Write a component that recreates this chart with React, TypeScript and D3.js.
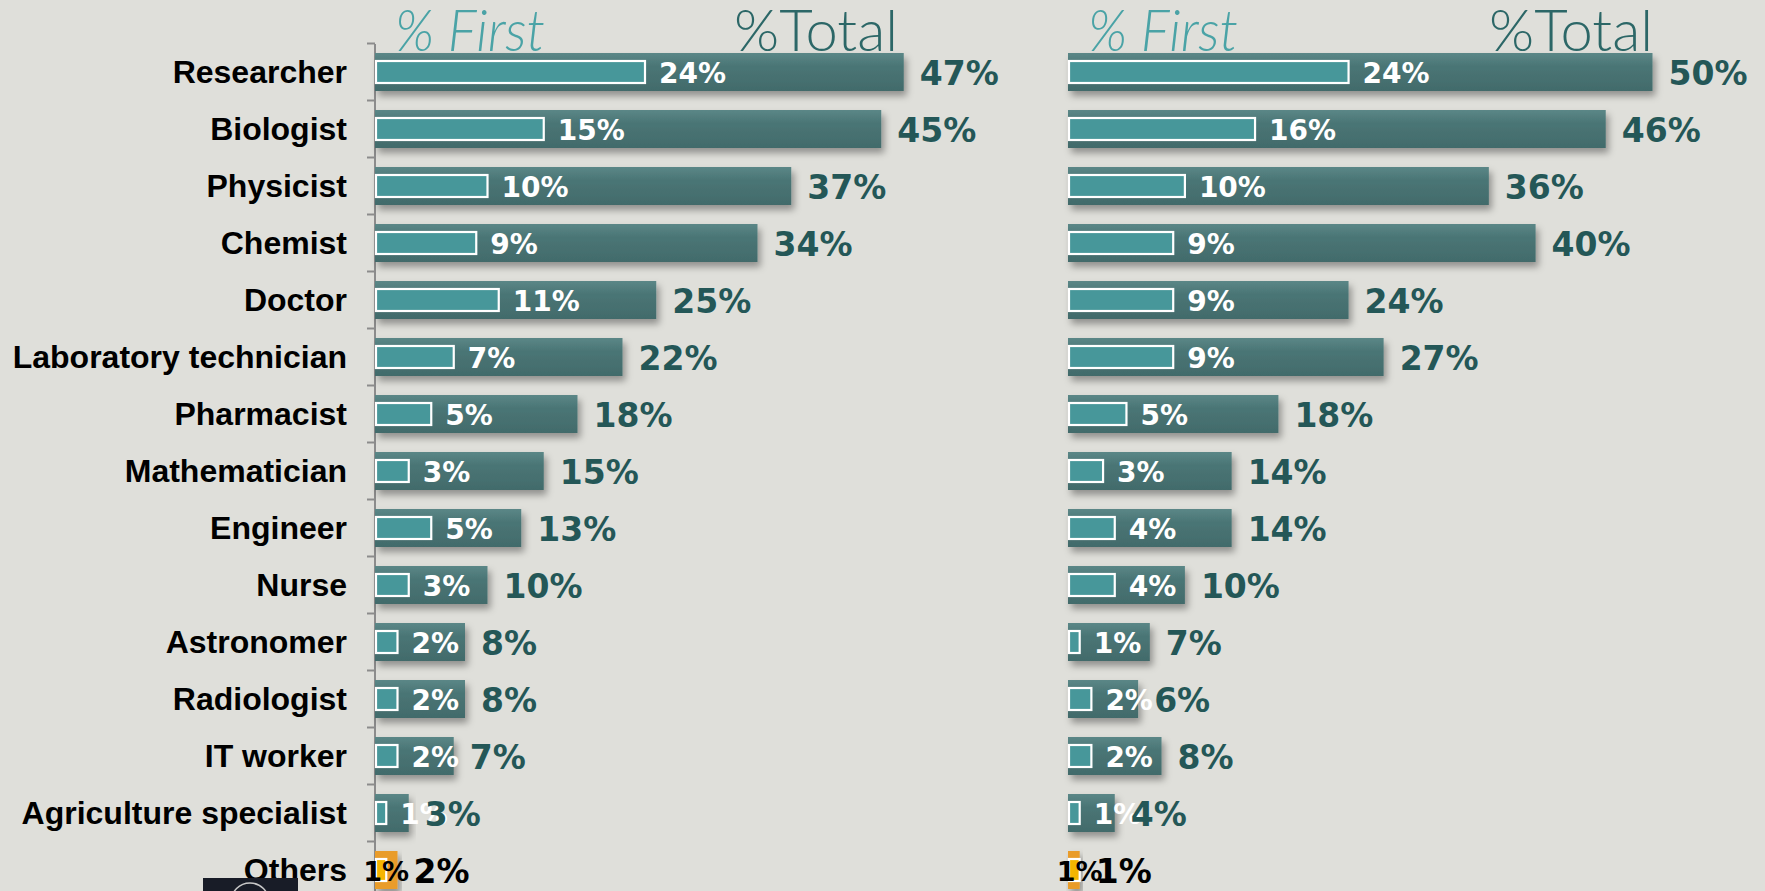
import * as d3 from "d3";

const categories = [
  "Researcher",
  "Biologist",
  "Physicist",
  "Chemist",
  "Doctor",
  "Laboratory technician",
  "Pharmacist",
  "Mathematician",
  "Engineer",
  "Nurse",
  "Astronomer",
  "Radiologist",
  "IT worker",
  "Agriculture specialist",
  "Others",
];

const leftTotal = [47, 45, 37, 34, 25, 22, 18, 15, 13, 10, 8, 8, 7, 3, 2];
const leftFirst = [24, 15, 10, 9, 11, 7, 5, 3, 5, 3, 2, 2, 2, 1, 1];
const rightTotal = [50, 46, 36, 40, 24, 27, 18, 14, 14, 10, 7, 6, 8, 4, 1];
const rightFirst = [24, 16, 10, 9, 9, 9, 5, 3, 4, 4, 1, 2, 2, 1, 1];

const W = 1765;
const H = 891;

const y = d3
  .scaleBand<string>()
  .domain(categories)
  .range([43.5, 898.5])
  .paddingInner(1 / 3)
  .paddingOuter(1 / 6);

const xLeft = d3.scaleLinear().domain([0, 50]).range([375, 937.5]);
const xRight = d3.scaleLinear().domain([0, 50]).range([1068, 1652.5]);

const INNER_H = 22;

interface PanelProps {
  x: d3.ScaleLinear<number, number>;
  total: number[];
  first: number[];
  totalTitleX: number;
}

const Panel = ({ x, total, first, totalTitleX }: PanelProps) => {
  const x0 = x(0);
  return (
    <g>
      {categories.map((c, i) => {
        const top = y(c)!;
        const bw = y.bandwidth();
        const cy = top + bw / 2;
        const other = c === "Others";
        const tEnd = x(total[i]);
        const fEnd = x(first[i]);
        return (
          <g key={c}>
            <rect
              x={x0}
              y={top}
              width={tEnd - x0}
              height={bw}
              fill={other ? "#e99c2b" : "url(#barGrad)"}
              filter="url(#shadow)"
            />
            <rect
              x={x0 + 1}
              y={cy - INNER_H / 2}
              width={Math.max(fEnd - x0 - 1, 2)}
              height={INNER_H}
              fill={other ? "#f5b500" : "#47979a"}
              stroke="#ffffff"
              strokeWidth={2.2}
            />
            <text
              x={other ? fEnd : fEnd + 14}
              y={cy + 11}
              textAnchor={other ? "middle" : "start"}
              fontFamily="'DejaVu Sans', Verdana, sans-serif"
              fontWeight="bold"
              fontSize={other ? 27 : 28}
              fill={other ? "#000000" : "#ffffff"}
            >
              {first[i]}%
            </text>
            <text
              x={tEnd + 16}
              y={cy + 13}
              fontFamily="'DejaVu Sans', Verdana, sans-serif"
              fontWeight="bold"
              fontSize={33}
              fill={other ? "#000000" : "#245757"}
            >
              {total[i]}%
            </text>
          </g>
        );
      })}
      <text
        x={x0 + 20}
        y={51}
        fontFamily="Lato, 'Open Sans', sans-serif"
        fontWeight={300}
        fontStyle="italic"
        fontSize={58}
        fill="#4aa3a6"
        textLength={150}
        lengthAdjust="spacingAndGlyphs"
      >
        % First
      </text>
      <text
        x={totalTitleX}
        y={51}
        fontFamily="Lato, 'Open Sans', sans-serif"
        fontWeight={300}
        fontSize={58}
        fill="#2c6767"
        textLength={164}
        lengthAdjust="spacingAndGlyphs"
      >
        %Total
      </text>
    </g>
  );
};

export default function App() {
  const ticks = d3.range(categories.length + 1).map(k => 43.5 + k * y.step());
  return (
    <svg
      width={W}
      height={H}
      viewBox={`0 0 ${W} ${H}`}
      style={{ position: "absolute", left: 0, top: 0, display: "block" }}
    >
      <defs>
        <linearGradient id="barGrad" x1="0" y1="0" x2="0" y2="1">
          <stop offset="0%" stopColor="#5b8787" />
          <stop offset="35%" stopColor="#4a7575" />
          <stop offset="100%" stopColor="#426b6b" />
        </linearGradient>
        <filter id="shadow" x="-10%" y="-30%" width="130%" height="180%">
          <feDropShadow dx="3" dy="5" stdDeviation="3.5" floodColor="#000" floodOpacity="0.35" />
        </filter>
      </defs>
      <rect width={W} height={H} fill="#dfdfda" />

      {/* left axis with ticks between rows */}
      <line x1={375} x2={375} y1={44} y2={H} stroke="#8c8c8c" strokeWidth={2} />
      {ticks.map(t => (
        <line key={t} x1={367} x2={375} y1={t} y2={t} stroke="#8c8c8c" strokeWidth={2} />
      ))}

      {categories.map(c => (
        <text
          key={c}
          x={347}
          y={y(c)! + y.bandwidth() / 2 + 11}
          textAnchor="end"
          fontFamily="'Liberation Sans', Arial, sans-serif"
          fontWeight="bold"
          fontSize={32}
          fill="#000"
        >
          {c}
        </text>
      ))}

      <Panel x={xLeft} total={leftTotal} first={leftFirst} totalTitleX={734} />
      <Panel x={xRight} total={rightTotal} first={rightFirst} totalTitleX={1489} />

      {/* small dark badge at the bottom */}
      <rect x={203} y={878} width={95} height={13} fill="#181c27" />
      <circle cx={250} cy={902} r={19} fill="none" stroke="#c8c8c8" strokeWidth={1.5} />
    </svg>
  );
}
